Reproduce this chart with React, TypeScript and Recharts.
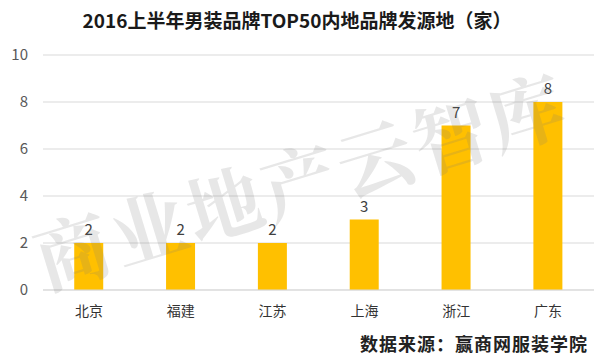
import { BarChart, Bar, XAxis, YAxis, CartesianGrid, LabelList } from 'recharts';

const regions = ['北京', '福建', '江苏', '上海', '浙江', '广东'];
const brandCounts = [2, 2, 2, 3, 7, 8];
const yTicks = [0, 2, 4, 6, 8, 10];

const data = regions.map((name, i) => ({ name, value: brandCounts[i] }));

const FONT = '"Noto Sans CJK SC", "Noto Sans", sans-serif';

export default function App() {
  return (
    <div
      style={{
        position: 'absolute',
        left: 0,
        top: 0,
        width: 594,
        height: 361,
        background: '#ffffff',
        overflow: 'hidden',
        fontFamily: FONT,
      }}
    >
      <div
        style={{
          position: 'absolute',
          top: 7,
          left: 0,
          width: 594,
          textAlign: 'center',
          fontSize: 19,
          fontWeight: 'bold',
          color: '#1a1a1a',
          lineHeight: '26px',
        }}
      >
        2016上半年男装品牌TOP50内地品牌发源地（家）
      </div>
      <BarChart
        width={594}
        height={361}
        data={data}
        margin={{ top: 55, right: 0, left: 0, bottom: 41 }}
        barCategoryGap="34%"
      >
        <CartesianGrid vertical={false} stroke="#d9d9d9" />
        <XAxis
          dataKey="name"
          axisLine={{ stroke: '#d9d9d9' }}
          tickLine={false}
          tickMargin={10}
          height={30}
          tick={{ fontSize: 14, fill: '#333333', fontFamily: FONT }}
        />
        <YAxis
          width={43}
          domain={[0, 10]}
          ticks={yTicks}
          axisLine={false}
          tickLine={false}
          tickMargin={9}
          tick={{ fontSize: 15, fill: '#595959', fontFamily: FONT }}
        />
        <Bar dataKey="value" fill="#FFC000" isAnimationActive={false}>
          <LabelList
            dataKey="value"
            position="top"
            offset={8}
            style={{ fontSize: 15, fill: '#404040', fontFamily: FONT }}
          />
        </Bar>
      </BarChart>
      <div
        style={{
          position: 'absolute',
          left: 300,
          top: 178,
          transform: 'translate(-50%, -50%) rotate(-17deg)',
          whiteSpace: 'nowrap',
          fontSize: 76,
          fontWeight: 'bold',
          letterSpacing: 3,
          color: 'rgba(120,120,120,0.18)',
          fontFamily: '"Noto Serif CJK SC", "Noto Sans CJK SC", serif',
          pointerEvents: 'none',
        }}
      >
        商业地产云智库
      </div>
      <div
        style={{
          position: 'absolute',
          right: 6,
          top: 332,
          fontSize: 18,
          fontWeight: 'bold',
          letterSpacing: 1,
          color: '#222222',
          lineHeight: '22px',
          whiteSpace: 'nowrap',
        }}
      >
        数据来源：赢商网服装学院
      </div>
    </div>
  );
}
